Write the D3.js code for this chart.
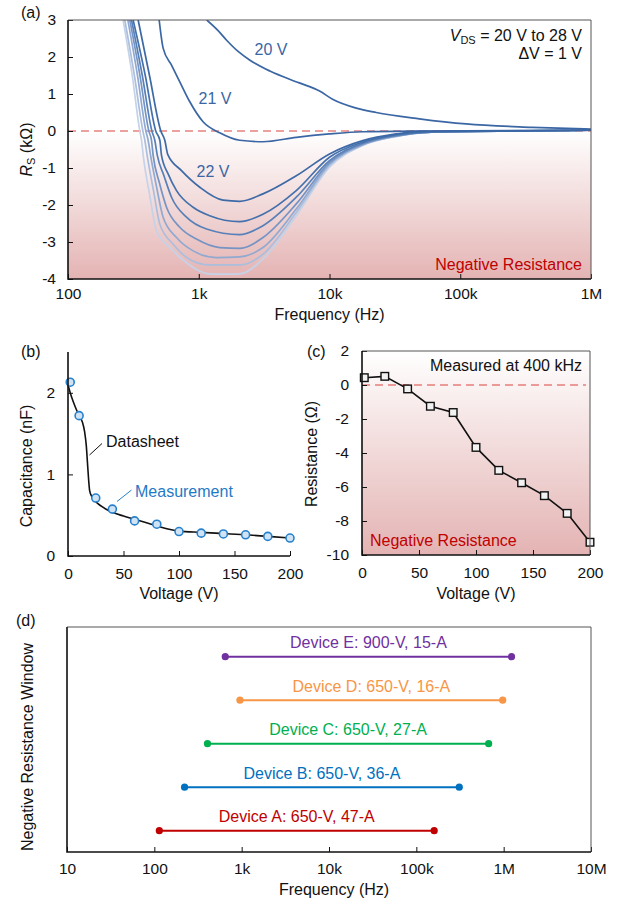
<!DOCTYPE html>
<html>
<head>
<meta charset="utf-8">
<script src="https://cdn.jsdelivr.net/npm/d3@7"></script>
<style>
  body { margin: 0; background: #fff; }
  svg { display: block; font-family: "Liberation Sans", Arial, Helvetica, sans-serif; }
  text { font-size: 16px; fill: #111; }
</style>
</head>
<body>
<svg id="fig" width="618" height="904"></svg>
<script>
// ---------- panel (a): R_S (kOhm) vs frequency (Hz), one series per V_DS ----------
const vdsNames = ["20 V", "21 V", "22 V", "23 V", "24 V", "25 V", "26 V", "27 V", "28 V"];
const rs20 = [[1151, 3], [1400, 2.72], [1627, 2.46], [2000, 2.15], [2447, 1.92], [3500, 1.62], [5870, 1.3], [8390, 1.08], [10550, 0.86], [16000, 0.62], [22740, 0.5], [48640, 0.33], [111000, 0.19], [355000, 0.1], [1000000, 0.05]];
const rs21 = [[498, 3], [534, 2.24], [619, 1.78], [716, 1.33], [854, 0.79], [1079, 0.25], [1446, -0.05], [2056, -0.25], [3098, -0.29], [5570, -0.17], [10000, -0.08], [17960, -0.02], [50000, 0], [1000000, 0.02]];
const rs22 = [[344, 3], [420, 1.5], [513, 0], [550, -0.25], [580, -0.64], [738, -1.07], [1018, -1.52], [1534, -1.87], [2056, -1.9], [3098, -1.7], [5570, -1.21], [10000, -0.62], [17960, -0.26], [32300, -0.08], [48640, -0.01], [1000000, 0.02]];
const rs23 = [[315, 3], [390, 1.5], [469, 0], [504, -0.25], [519, -0.66], [583, -1.16], [676, -1.61], [905, -2.06], [1213, -2.29], [2056, -2.45], [3098, -2.25], [5570, -1.61], [10000, -0.71], [17960, -0.3], [32300, -0.1], [60000, -0.02], [1000000, 0.02]];
const rs24 = [[306, 3], [370, 1.5], [438, 0], [461, -0.25], [482, -0.66], [541, -1.2], [619, -1.79], [806, -2.33], [1146, -2.65], [2056, -2.8], [3098, -2.56], [5570, -1.79], [10000, -0.8], [17960, -0.33], [32300, -0.12], [60000, -0.03], [1000000, 0.02]];
const rs25 = [[297, 3], [355, 1.5], [415, 0], [435, -0.25], [448, -0.66], [500, -1.4], [567, -2.06], [716, -2.6], [960, -2.92], [1446, -3.15], [2056, -3.17], [3098, -2.88], [5570, -1.97], [10000, -0.85], [17960, -0.35], [32300, -0.13], [60000, -0.03], [1000000, 0.02]];
const rs26 = [[287, 3], [340, 1.5], [394, 0], [410, -0.25], [428, -0.66], [475, -1.5], [534, -2.33], [676, -2.88], [905, -3.24], [1365, -3.42], [2056, -3.4], [3098, -3.15], [5570, -2.11], [10000, -0.89], [17960, -0.37], [32300, -0.14], [60000, -0.03], [1000000, 0.02]];
const rs27 = [[272, 3], [322, 1.5], [374, 0], [387, -0.25], [403, -0.66], [450, -1.6], [504, -2.52], [637, -3.06], [854, -3.47], [1213, -3.62], [2056, -3.62], [3098, -3.33], [5570, -2.2], [10000, -0.93], [17960, -0.38], [32300, -0.14], [60000, -0.03], [1000000, 0.02]];
const rs28 = [[264, 3], [310, 1.5], [354, 0], [365, -0.25], [376, -0.66], [420, -1.7], [475, -2.7], [601, -3.15], [806, -3.56], [960, -3.74], [1213, -3.86], [1627, -3.87], [2056, -3.86], [3098, -3.46], [5570, -2.29], [10000, -0.98], [17960, -0.39], [32300, -0.15], [60000, -0.03], [1000000, 0.02]];
const rsCurves = [rs20, rs21, rs22, rs23, rs24, rs25, rs26, rs27, rs28];
const freqTicksA = [100, 1000, 10000, 100000, 1000000];
const freqLabelsA = ["100", "1k", "10k", "100k", "1M"];
const rsTicks = [3, 2, 1, 0, -1, -2, -3, -4];

// ---------- panel (b): capacitance (nF) vs voltage (V) ----------
const measVolt = [2, 10, 25, 40, 60, 80, 100, 120, 140, 160, 180, 200];
const measCap = [2.13, 1.72, 0.71, 0.575, 0.43, 0.39, 0.3, 0.28, 0.27, 0.26, 0.24, 0.22];
const sheetVolt = [0, 2, 5, 8, 11, 13, 15, 16.5, 17.5, 18.5, 19.5, 21, 24, 30, 40, 50, 60, 70, 80, 90, 100, 120, 140, 160, 180, 200];
const sheetCap = [2.1, 2.0, 1.88, 1.78, 1.7, 1.64, 1.52, 1.35, 1.15, 0.95, 0.8, 0.74, 0.68, 0.61, 0.535, 0.49, 0.45, 0.41, 0.37, 0.33, 0.305, 0.29, 0.275, 0.26, 0.24, 0.22];

// ---------- panel (c): resistance (Ohm) at 400 kHz vs voltage ----------
const resVolt = [2, 20, 40, 60, 80, 100, 120, 140, 160, 180, 200];
const resOhm = [0.43, 0.51, -0.23, -1.25, -1.62, -3.67, -5.02, -5.75, -6.51, -7.55, -9.25];

// ---------- panel (d): negative resistance window per device ----------
const devices = ["Device A: 650-V, 47-A", "Device B: 650-V, 36-A", "Device C: 650-V, 27-A", "Device D: 650-V, 16-A", "Device E: 900-V, 15-A"];
const windowLow = [114, 222, 406, 956, 649];
const windowHigh = [160000, 310000, 673000, 975000, 1230000];
const freqTicksD = [10, 100, 1000, 10000, 100000, 1000000, 10000000];
const freqLabelsD = ["10", "100", "1k", "10k", "100k", "1M", "10M"];

// colours
const curveColors = ["#3b66a4", "#3b66a4", "#3d69a7", "#4470ac", "#5880b8", "#7594c4", "#90a9d1", "#abbedd", "#c5d2e8"];
const deviceColors = ["#c00000", "#0070c0", "#00b050", "#f79646", "#7030a0"];
const negRed = "#c00000";
const pinkBottom = "#e4b3b3";
const tickFont = "15.5px";

const svg = d3.select("#fig");
const defs = svg.append("defs");

function pinkGradient(id, y0, y1) {
  const g = defs.append("linearGradient")
    .attr("id", id)
    .attr("gradientUnits", "userSpaceOnUse")
    .attr("x1", 0).attr("x2", 0)
    .attr("y1", y0).attr("y2", y1);
  g.append("stop").attr("offset", 0).attr("stop-color", "#ffffff");
  g.append("stop").attr("offset", 1).attr("stop-color", pinkBottom);
}

function styleAxis(g) {
  g.select(".domain").remove();
  g.selectAll(".tick line").attr("stroke", "#111").attr("stroke-width", 1);
  g.selectAll(".tick text").attr("fill", "#111").style("font-size", tickFont);
}

function frame(x0, x1, y0, y1, full) {
  if (full) {
    svg.append("path")
      .attr("d", `M${x0},${y0}H${x1}V${y1}`)
      .attr("fill", "none").attr("stroke", "#555").attr("stroke-width", 1);
  }
  svg.append("path")
    .attr("d", `M${x0},${y0}V${y1}H${x1}`)
    .attr("fill", "none").attr("stroke", "#111").attr("stroke-width", 1.6);
}

// =================== PANEL (a) ===================
{
  const left = 68, right = 591, top = 20, bottom = 279;
  const x = d3.scaleLog().domain([100, 1e6]).range([left, right]);
  const y = d3.scaleLinear().domain([-4, 3]).range([bottom, top]);

  pinkGradient("gradA", y(0), y(-4));
  svg.append("rect")
    .attr("x", left).attr("y", y(0))
    .attr("width", right - left).attr("height", y(-4) - y(0))
    .attr("fill", "url(#gradA)");

  defs.append("clipPath").attr("id", "clipA")
    .append("rect").attr("x", left).attr("y", top)
    .attr("width", right - left).attr("height", bottom - top);

  svg.append("line")
    .attr("x1", left).attr("x2", right)
    .attr("y1", y(0)).attr("y2", y(0))
    .attr("stroke", "#d9443f").attr("stroke-width", 1.2)
    .attr("stroke-dasharray", "8,5");

  const line = d3.line()
    .x(d => x(d[0]))
    .y(d => y(d[1]))
    .curve(d3.curveMonotoneX);

  const order = d3.range(rsCurves.length).reverse();
  svg.append("g").attr("clip-path", "url(#clipA)")
    .selectAll("path")
    .data(order)
    .join("path")
    .attr("d", i => line(rsCurves[i]))
    .attr("fill", "none")
    .attr("stroke", i => curveColors[i])
    .attr("stroke-width", 1.7);

  svg.append("g")
    .attr("transform", `translate(0,${bottom})`)
    .call(d3.axisBottom(x).tickValues(freqTicksA)
      .tickFormat((d, i) => freqLabelsA[i])
      .tickSizeInner(-5).tickSizeOuter(0).tickPadding(9))
    .call(styleAxis);

  svg.append("g")
    .attr("transform", `translate(${left},0)`)
    .call(d3.axisLeft(y).tickValues(rsTicks)
      .tickFormat(d => String(d))
      .tickSizeInner(-5).tickSizeOuter(0).tickPadding(12))
    .call(styleAxis);

  frame(left, right, top, bottom, true);

  // curve labels
  const lab = [[vdsNames[0], 271, 55], [vdsNames[1], 215, 104], [vdsNames[2], 213, 177]];
  svg.selectAll(".vlab").data(lab).join("text")
    .attr("class", "vlab")
    .attr("x", d => d[1]).attr("y", d => d[2])
    .attr("text-anchor", "middle")
    .style("fill", "#3b66a4")
    .text(d => d[0]);

  const ann = svg.append("text").attr("x", 582).attr("y", 41).attr("text-anchor", "end");
  ann.append("tspan").style("font-style", "italic").text("V");
  ann.append("tspan").attr("dy", 3).style("font-size", "11px").text("DS");
  ann.append("tspan").attr("dy", -3).text(" = 20 V to 28 V");
  svg.append("text").attr("x", 582).attr("y", 59).attr("text-anchor", "end").text("\u0394V = 1 V");

  svg.append("text").attr("x", 582).attr("y", 270).attr("text-anchor", "end")
    .style("fill", negRed).text("Negative Resistance");

  svg.append("text").attr("x", 21).attr("y", 18).text("(a)");

  const yl = svg.append("text")
    .attr("transform", `translate(32,${(top + bottom) / 2}) rotate(-90)`)
    .attr("text-anchor", "middle");
  yl.append("tspan").style("font-style", "italic").text("R");
  yl.append("tspan").attr("dy", 3).style("font-size", "11px").text("S");
  yl.append("tspan").attr("dy", -3).text(" (k\u03A9)");

  svg.append("text").attr("x", (left + right) / 2).attr("y", 320)
    .attr("text-anchor", "middle").text("Frequency (Hz)");
}

// =================== PANEL (b) ===================
{
  const left = 68, right = 290, top = 352, bottom = 556;
  const x = d3.scaleLinear().domain([0, 200]).range([left, right]);
  const y = d3.scaleLinear().domain([0, 2.5]).range([bottom, top]);

  const sheet = sheetVolt.map((v, i) => [v, sheetCap[i]]);
  svg.append("path")
    .attr("d", d3.line().x(d => x(d[0])).y(d => y(d[1])).curve(d3.curveMonotoneX)(sheet))
    .attr("fill", "none").attr("stroke", "#111").attr("stroke-width", 1.6);

  svg.selectAll(".meas").data(measVolt).join("circle")
    .attr("class", "meas")
    .attr("cx", d => x(d))
    .attr("cy", (d, i) => y(measCap[i]))
    .attr("r", 4)
    .attr("fill", "#cfe3f5")
    .attr("stroke", "#2680cc")
    .attr("stroke-width", 1.6);

  svg.append("g")
    .attr("transform", `translate(0,${bottom})`)
    .call(d3.axisBottom(x).tickValues([0, 50, 100, 150, 200])
      .tickFormat(d => String(d))
      .tickSizeInner(-5).tickSizeOuter(0).tickPadding(12))
    .call(styleAxis);
  svg.append("g")
    .attr("transform", `translate(${left},0)`)
    .call(d3.axisLeft(y).tickValues([0, 1, 2])
      .tickFormat(d => String(d))
      .tickSizeInner(-5).tickSizeOuter(0).tickPadding(13))
    .call(styleAxis);
  frame(left, right, top, bottom, false);

  svg.append("line").attr("x1", 89.5).attr("y1", 455).attr("x2", 102).attr("y2", 443.5)
    .attr("stroke", "#111").attr("stroke-width", 1);
  svg.append("text").attr("x", 106).attr("y", 447).text("Datasheet");
  svg.append("line").attr("x1", 117).attr("y1", 501.5).attr("x2", 131.5).attr("y2", 490)
    .attr("stroke", "#2680cc").attr("stroke-width", 1);
  svg.append("text").attr("x", 135).attr("y", 497).style("fill", "#1f7ac6").text("Measurement");

  svg.append("text").attr("x", 21).attr("y", 357).text("(b)");
  svg.append("text")
    .attr("transform", `translate(32,466) rotate(-90)`)
    .attr("text-anchor", "middle").text("Capacitance (nF)");
  svg.append("text").attr("x", (left + right) / 2).attr("y", 599)
    .attr("text-anchor", "middle").text("Voltage (V)");
}

// =================== PANEL (c) ===================
{
  const left = 362, right = 590, top = 351, bottom = 555;
  const x = d3.scaleLinear().domain([0, 200]).range([left, right]);
  const y = d3.scaleLinear().domain([-10, 2]).range([bottom, top]);

  pinkGradient("gradC", top, bottom);
  svg.append("rect")
    .attr("x", left).attr("y", top)
    .attr("width", right - left).attr("height", bottom - top)
    .attr("fill", "url(#gradC)");

  svg.append("line")
    .attr("x1", left).attr("x2", right - 4)
    .attr("y1", y(0)).attr("y2", y(0))
    .attr("stroke", "#d9443f").attr("stroke-width", 1.2)
    .attr("stroke-dasharray", "8,5");

  const pts = resVolt.map((v, i) => [v, resOhm[i]]);
  svg.append("path")
    .attr("d", d3.line().x(d => x(d[0])).y(d => y(d[1]))(pts))
    .attr("fill", "none").attr("stroke", "#111").attr("stroke-width", 1.6);

  svg.selectAll(".sq").data(pts).join("rect")
    .attr("class", "sq")
    .attr("x", d => x(d[0]) - 3.8).attr("y", d => y(d[1]) - 3.8)
    .attr("width", 7.6).attr("height", 7.6)
    .attr("fill", "#f2f2f2").attr("stroke", "#111").attr("stroke-width", 1.4);

  svg.append("g")
    .attr("transform", `translate(0,${bottom})`)
    .call(d3.axisBottom(x).tickValues([0, 50, 100, 150, 200])
      .tickFormat(d => String(d))
      .tickSizeInner(-5).tickSizeOuter(0).tickPadding(12))
    .call(styleAxis);
  svg.append("g")
    .attr("transform", `translate(${left},0)`)
    .call(d3.axisLeft(y).tickValues([2, 0, -2, -4, -6, -8, -10])
      .tickFormat(d => String(d))
      .tickSizeInner(-5).tickSizeOuter(0).tickPadding(13))
    .call(styleAxis);
  frame(left, right, top, bottom, true);

  svg.append("text").attr("x", 582).attr("y", 371).attr("text-anchor", "end").text("Measured at 400 kHz");
  svg.append("text").attr("x", 370).attr("y", 546).style("fill", negRed).text("Negative Resistance");

  svg.append("text").attr("x", 307).attr("y", 357).text("(c)");
  svg.append("text")
    .attr("transform", `translate(317,454) rotate(-90)`)
    .attr("text-anchor", "middle").text("Resistance (\u03A9)");
  svg.append("text").attr("x", (left + right) / 2).attr("y", 599)
    .attr("text-anchor", "middle").text("Voltage (V)");
}

// =================== PANEL (d) ===================
{
  const left = 67, right = 591, top = 627, bottom = 852;
  const x = d3.scaleLog().domain([10, 1e7]).range([left, right]);
  const y = d3.scalePoint().domain(devices).range([830.7, 656.7]);

  const g = svg.append("g");
  devices.forEach((name, i) => {
    const yy = y(name);
    const c = deviceColors[i];
    g.append("line")
      .attr("x1", x(windowLow[i])).attr("x2", x(windowHigh[i]))
      .attr("y1", yy).attr("y2", yy)
      .attr("stroke", c).attr("stroke-width", 2);
    g.selectAll(null).data([windowLow[i], windowHigh[i]]).join("circle")
      .attr("cx", d => x(d)).attr("cy", yy).attr("r", 3.6).attr("fill", c);
    g.append("text")
      .attr("x", (x(windowLow[i]) + x(windowHigh[i])) / 2)
      .attr("y", yy - 8.5)
      .attr("text-anchor", "middle")
      .style("fill", c)
      .text(name);
  });

  svg.append("g")
    .attr("transform", `translate(0,${bottom})`)
    .call(d3.axisBottom(x).tickValues(freqTicksD)
      .tickFormat((d, i) => freqLabelsD[i])
      .tickSizeInner(-5).tickSizeOuter(0).tickPadding(11))
    .call(styleAxis);
  frame(left, right, top, bottom, true);

  svg.append("text").attr("x", 16).attr("y", 626).text("(d)");
  svg.append("text")
    .attr("transform", `translate(33,747) rotate(-90)`)
    .attr("text-anchor", "middle").text("Negative Resistance Window");
  svg.append("text").attr("x", 334).attr("y", 895)
    .attr("text-anchor", "middle").text("Frequency (Hz)");
}
</script>
</body>
</html>
